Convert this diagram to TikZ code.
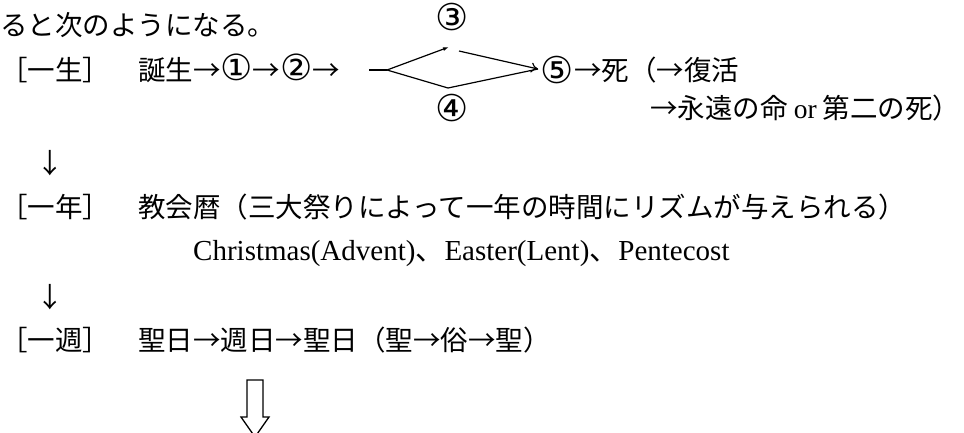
\documentclass[tikz,border=0pt]{standalone}
\usepackage{fontspec}
\setmainfont{Liberation Serif}
\newfontfamily\jp{Noto Sans CJK JP}
\newfontfamily\cn{DejaVu Sans}
\newcommand{\circd}[1]{{\cn\fontsize{36}{36}\selectfont #1}}
\usetikzlibrary{arrows.meta}
\begin{document}
\begin{tikzpicture}[x=1pt,y=-1pt,
  txt/.style={inner sep=0pt, anchor=west, font=\jp\fontsize{27.5}{30}\selectfont, text height=24.2pt, text depth=3.3pt},
  num/.style={inner sep=0pt, anchor=center, font=\cn\fontsize{37}{37}\selectfont},
  dline/.style={line width=1.2pt, black},
  hollow/.style={line width=1.3pt, black, fill=white, line join=miter}]
\useasboundingbox (0,0) rectangle (964,432);
% row 1
\node[txt] (intro) at (0,25) {ると次のようになる。};
\node[num] (n3) at (452,17) {③};
% row 2
\node[txt] (lab1) at (0,70) {［一生］};
\node[txt] (life) at (138,70) {誕生→\circd{①}→\circd{②}→};
\node[num] (n5) at (557,70) {⑤};
\node[txt] (death) at (574,70) {→死（→復活};
% row 3
\node[num] (n4) at (452,108) {④};
\node[txt] (eternal) at (650,108) {→永遠の命 {\rmfamily or} 第二の死）};
% down arrows
\node[txt, anchor=center] (d1) at (50,163) {↓};
% year
\node[txt] (lab2) at (0,207) {［一年］};
\node[txt] (cal) at (138,207) {教会暦（三大祭りによって一年の時間にリズムが与えられる）};
\node[txt, font=\rmfamily\fontsize{29}{30}\selectfont] (fest) at (193,250) {Christmas(Advent){\jp 、}Easter(Lent){\jp 、}Pentecost};
\node[txt, anchor=center] (d2) at (50,297) {↓};
% week
\node[txt] (lab3) at (0,340) {［一週］};
\node[txt] (week) at (138,340) {聖日→週日→聖日（聖→俗→聖）};
% branching diagram
\coordinate (s0) at (369,70);
\coordinate (v) at (387,70);
\coordinate (t1) at (449,47);
\coordinate (t2) at (459,51);
\coordinate (b) at (448,88);
\coordinate (r) at (538,69);
\draw[line width=2pt] (s0) -- (v);
\draw[dline, -{Latex[length=6pt,width=4pt]}] (v) -- (t1);
\draw[dline, -{To[length=7pt,width=10pt]}] (t2) -- (r);
\draw[dline] (v) -- (b) -- (r);
% big hollow arrow
\draw[hollow] (247,380) -- (263,380) -- (263,417) -- (269,417) -- (255,437) -- (241,417) -- (247,417) -- cycle;
\end{tikzpicture}
\end{document}
